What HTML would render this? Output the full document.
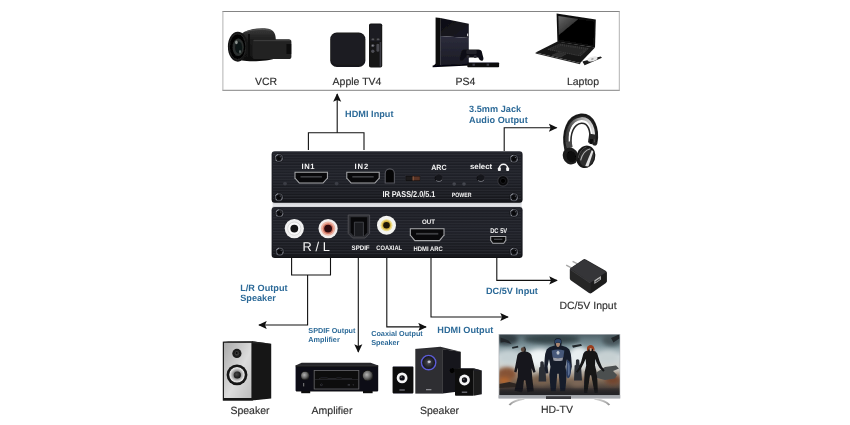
<!DOCTYPE html>
<html><head><meta charset="utf-8"><title>HDMI Audio Extractor Connection Diagram</title>
<style>
html,body{margin:0;padding:0;background:#fff;}
body{width:850px;height:425px;overflow:hidden;}
svg{display:block;}
text{text-rendering:geometricPrecision;}
text{font-family:"Liberation Sans",Arial,sans-serif;}
.lb{font-size:10.5px;fill:#303030;stroke:#303030;stroke-width:0.15px;}
.bl{font-size:9.15px;font-weight:bold;fill:#2c6a98;letter-spacing:0.03px;}
.bs{font-size:7.25px;font-weight:bold;fill:#2c6a98;}
.w{fill:#f4f4f4;font-weight:bold;}
.ln{fill:none;stroke:#111;stroke-width:1.1;}
</style></head><body>
<svg width="850" height="425" viewBox="0 0 850 425" style="opacity:0.999">
<defs>
<linearGradient id="gBody" x1="0" y1="0" x2="0" y2="1"><stop offset="0" stop-color="#2c2e36"/><stop offset="0.06" stop-color="#1c1d24"/><stop offset="0.5" stop-color="#1e2027"/><stop offset="0.9" stop-color="#17181d"/><stop offset="1" stop-color="#0e0f12"/></linearGradient>
<pattern id="pLines" width="4" height="2.75" patternUnits="userSpaceOnUse"><rect width="4" height="1.1" y="0" fill="#3a3c44"/></pattern>
<marker id="ah" viewBox="0 0 10 10" refX="9" refY="5" markerWidth="9" markerHeight="8.6" orient="auto-start-reverse" markerUnits="userSpaceOnUse"><path d="M0,0.3 L10,5 L0,9.7 L2,5 Z" fill="#111"/></marker>
</defs>
<rect width="850" height="425" fill="#fff"/>

<!-- top source box -->
<path d="M222.4,11.5 H619.8 M222.4,90.3 H619.8" stroke="#848484" stroke-width="1" fill="none"/>
<path d="M222.9,11.5 V90.3 M619.3,11.5 V90.3" stroke="#b2b2b2" stroke-width="1" fill="none"/>
<text class="lb" x="266" y="85" text-anchor="middle">VCR</text>
<text class="lb" x="357" y="85" text-anchor="middle">Apple TV4</text>
<text class="lb" x="465.5" y="85" text-anchor="middle">PS4</text>
<text class="lb" x="583" y="85" text-anchor="middle">Laptop</text>

<!-- connection lines -->
<g id="lines">
<path class="ln" d="M308.4,150 V132.7 H364 V150"/>
<path class="ln" d="M337.2,132.7 V94" marker-end="url(#ah)"/>
<path class="ln" d="M504.2,151 V127.7 H556.6" marker-end="url(#ah)"/>
<path class="ln" d="M496.8,258 V280.4 H557" marker-end="url(#ah)"/>
<path class="ln" d="M431,258 V317 H508" marker-end="url(#ah)"/>
<path class="ln" d="M291.6,258 V275 H330.5 V258"/>
<path class="ln" d="M307.6,275 V325 H259" marker-end="url(#ah)"/>
<path class="ln" d="M358.3,258 V352" marker-end="url(#ah)"/>
<path class="ln" d="M386.8,258 V326.9 H426" marker-end="url(#ah)"/>
</g>

<!-- blue labels -->
<text class="bl" x="345.1" y="117.2">HDMI Input</text>
<text class="bl" x="469.1" y="112">3.5mm Jack</text>
<text class="bl" x="469.1" y="122.9">Audio Output</text>
<text class="bl" x="485.9" y="294.1">DC/5V Input</text>
<text class="bl" x="437.3" y="333.2">HDMI Output</text>
<text class="bl" x="240.2" y="290.9">L/R Output</text>
<text class="bl" x="240.2" y="301">Speaker</text>
<text class="bs" x="308.3" y="333.3">SPDIF Output</text>
<text class="bs" x="308.3" y="341.9">Amplifier</text>
<text class="bs" x="371.2" y="336.2">Coaxial Output</text>
<text class="bs" x="371.2" y="344.5">Speaker</text>

<!-- grey labels -->
<text class="lb" x="588" y="308.8" text-anchor="middle">DC/5V Input</text>
<text class="lb" x="250" y="413.6" text-anchor="middle">Speaker</text>
<text class="lb" x="332" y="413.6" text-anchor="middle">Amplifier</text>
<text class="lb" x="439.5" y="413.6" text-anchor="middle">Speaker</text>
<text class="lb" x="557" y="413.4" text-anchor="middle">HD-TV</text>

<!-- DEVICE TOP -->
<defs><linearGradient id="gStrip" x1="0" y1="0" x2="0" y2="1"><stop offset="0" stop-color="#9c9da2"/><stop offset="0.3" stop-color="#d4d5d9"/><stop offset="0.65" stop-color="#e6e7ea"/><stop offset="1" stop-color="#a4a5aa"/></linearGradient></defs>
<rect x="272.6" y="201" width="249" height="7.5" fill="url(#gStrip)"/>
<g id="devTop">
<rect x="271.6" y="151.3" width="251" height="51.4" rx="3.2" fill="url(#gBody)"/>
<rect x="273" y="153.6" width="248" height="47.6" fill="url(#pLines)" opacity="0.5"/>
</g>
<!-- DEVICE BOTTOM -->
<g id="devBot">
<rect x="271.6" y="207.1" width="251" height="50.8" rx="3.2" fill="url(#gBody)"/>
<rect x="273" y="209.4" width="248" height="47" fill="url(#pLines)" opacity="0.5"/>
</g>

<!--PORTS-START-->
<!-- ===== top device details ===== -->
<defs>
<radialGradient id="gScrew"><stop offset="0" stop-color="#101013"/><stop offset="0.45" stop-color="#1c1d21"/><stop offset="0.7" stop-color="#4a4c54"/><stop offset="0.86" stop-color="#191a1e"/><stop offset="1" stop-color="#3c3e45"/></radialGradient>
<g id="screw"><circle r="4.700" fill="#15161a"/><circle r="3.500" fill="none" stroke="#4c4e56" stroke-width="1.100"/><circle r="1.900" fill="#0c0c0f"/><path d="M-2.400,-1.300L2.400,1.300M-1.300,2.400L1.300,-2.400" stroke="#08080a" stroke-width="1"/><path d="M-3.300,-1.400A3.600,3.600 0 0 1 -0.800,-3.500" fill="none" stroke="#9ea1aa" stroke-width="0.900"/><path d="M3.300,0.300A3.600,3.600 0 0 1 2,2.900" fill="none" stroke="#868992" stroke-width="0.800"/><circle cx="-2.600" cy="2.400" r="0.600" fill="#8d9099"/><circle cx="1.300" cy="-1.300" r="0.500" fill="#7d8089"/></g>
<g id="hdmi"><path d="M0,0 H33.4 V6.4 L28.8,11.6 H4.6 L0,6.4 Z" fill="#a9aaad"/><path d="M1,0.9 H32.4 V6.1 L28.3,10.6 H5.1 L1,6.1 Z" fill="#09090b"/><rect x="6" y="4.2" width="21.4" height="1.6" fill="#3e3f43"/></g>
</defs>
<use href="#screw" x="278.9" y="158"/><use href="#screw" x="278.9" y="197.2"/><use href="#screw" x="514" y="158.700"/><use href="#screw" x="514" y="197.200"/>
<text class="w" x="301.6" y="168.8" font-size="7.6" textLength="12.9" lengthAdjust="spacing">IN1</text>
<text class="w" x="354.6" y="168.8" font-size="7.6" textLength="13.6" lengthAdjust="spacing">IN2</text>
<use href="#hdmi" x="294.5" y="171.8"/>
<use href="#hdmi" x="346.3" y="171.8"/>
<circle cx="285" cy="183.6" r="1.9" fill="#3b3d45"/><circle cx="336.6" cy="183.6" r="1.9" fill="#3b3d45"/>
<!-- IR window -->
<path d="M385.2,183 V173.5 a4.6,4.6 0 0 1 9.2,0 V183 Z" fill="#050506" stroke="#56575e" stroke-width="1.1"/>
<!-- slide switch -->
<rect x="405.4" y="175.6" width="15" height="5.6" fill="#0b0b0d" stroke="#2c2d32" stroke-width="0.5"/><rect x="406.2" y="176.4" width="6.2" height="4" fill="#1d1b1c"/><rect x="412.6" y="176.4" width="7.2" height="4" fill="#5a3426"/><rect x="412.6" y="176.4" width="1.2" height="4" fill="#8a5a40"/>
<text class="w" x="382.4" y="196.8" font-size="8.5" textLength="53" lengthAdjust="spacingAndGlyphs">IR PASS/2.0/5.1</text>
<text class="w" x="431.2" y="169.5" font-size="7.6" textLength="15.4" lengthAdjust="spacingAndGlyphs">ARC</text>
<circle cx="438.9" cy="177.8" r="3.9" fill="#15161b" stroke="#2c2d33" stroke-width="0.700"/><path d="M435.400,176.400A3.900,3.900 0 0 0 436.200,180.600" fill="none" stroke="#08080a" stroke-width="0.900"/><path d="M436.1,180.4A3.9,3.9 0 0 0 442.1,179.8" fill="none" stroke="#8a8c94" stroke-width="0.7"/>
<circle cx="454.2" cy="184" r="1.8" fill="#44464e"/><circle cx="464" cy="184" r="1.8" fill="#44464e"/>
<text class="w" x="451.8" y="197.2" font-size="6.3" textLength="19.8" lengthAdjust="spacingAndGlyphs">POWER</text>
<text class="w" x="469.900" y="169" font-size="7.700" textLength="22.300" lengthAdjust="spacingAndGlyphs">select</text>
<circle cx="480.9" cy="177.8" r="3.9" fill="#15161b" stroke="#2c2d33" stroke-width="0.700"/><path d="M477.400,176.400A3.900,3.900 0 0 0 478.200,180.600" fill="none" stroke="#08080a" stroke-width="0.900"/><path d="M478.1,180.4A3.9,3.9 0 0 0 484.1,179.8" fill="none" stroke="#8a8c94" stroke-width="0.7"/>
<!-- headphone glyph -->
<path d="M499.400,169.400 V168.300 a4.100,4 0 0 1 8.200,0 V169.400" fill="none" stroke="#f4f4f4" stroke-width="1.600"/><rect x="497.9" y="167.5" width="2.9" height="3.5" rx="0.8" fill="#f4f4f4"/><rect x="506.2" y="167.5" width="2.9" height="3.5" rx="0.8" fill="#f4f4f4"/>
<circle cx="503" cy="180.900" r="5.200" fill="#08080a" stroke="#34353b" stroke-width="1.100"/><circle cx="503" cy="180.900" r="2.600" fill="#000" stroke="#222327" stroke-width="0.700"/>

<!-- ===== bottom device details ===== -->
<use href="#screw" x="279.500" y="213.200"/><use href="#screw" x="279.800" y="251.600"/><use href="#screw" x="514" y="213"/><use href="#screw" x="514" y="251.800"/>
<!-- RCA white -->
<circle cx="294.3" cy="228.6" r="9.6" fill="#f1f1f1"/><circle cx="294.3" cy="228.6" r="6.6" fill="#fafafa" stroke="#d2d2d2" stroke-width="0.8"/><circle cx="294.3" cy="228.6" r="3.9" fill="#151516"/>
<!-- RCA red -->
<circle cx="328.1" cy="228.6" r="9.6" fill="#f2efee"/><circle cx="328.1" cy="228.6" r="7.2" fill="#ecb4a4"/><circle cx="328.1" cy="228.6" r="5.400" fill="#cf7462"/><circle cx="328.1" cy="228.6" r="3.900" fill="#2e0a0e"/>
<text x="302.600" y="250.700" font-size="12.800" fill="#f4f4f4" textLength="27.200" lengthAdjust="spacing">R / L</text>
<!-- SPDIF optical -->
<path d="M348.2,215 H369.6 V233.5 L365.2,238 H352.6 L348.2,233.5 Z" fill="#2d2e33" stroke="#55565c" stroke-width="0.8"/>
<path d="M350.6,217.2 H367.2 V232.6 L364.2,235.8 H353.6 L350.6,232.6 Z" fill="#08080a"/>
<path d="M354.4,236 V222.2 H363.4 V236" fill="#1b1c20" stroke="#4a4b50" stroke-width="0.8"/>
<text class="w" x="351.6" y="249.7" font-size="6.6" textLength="18" lengthAdjust="spacingAndGlyphs">SPDIF</text>
<!-- Coaxial -->
<circle cx="386.5" cy="225.2" r="9.5" fill="#f4f4f1"/><circle cx="386.5" cy="225.2" r="6" fill="#ecdc8c"/><circle cx="386.5" cy="225.2" r="4.600" fill="#d2b040"/><circle cx="386.5" cy="225.2" r="3.300" fill="#1c1508"/>
<text class="w" x="376.3" y="249.7" font-size="6.6" textLength="25.8" lengthAdjust="spacingAndGlyphs">COAXIAL</text>
<!-- HDMI out -->
<text class="w" x="422" y="223.6" font-size="6.6" textLength="13" lengthAdjust="spacingAndGlyphs">OUT</text>
<g transform="translate(409.8,228.2) scale(1.04,1.12)"><use href="#hdmi"/></g>
<text class="w" x="413.5" y="250.6" font-size="6.6" textLength="29.2" lengthAdjust="spacingAndGlyphs">HDMI ARC</text>
<!-- DC -->
<text class="w" x="490.2" y="232.6" font-size="6.9" textLength="17" lengthAdjust="spacingAndGlyphs">DC 5V</text>
<path d="M490.2,236 H506.3 V240.4 L504,243.7 H492.5 L490.2,240.4 Z" fill="#a9aaad"/><path d="M491.2,237 H505.3 V240.1 L503.5,242.7 H493 L491.2,240.1 Z" fill="#0a0a0b"/><rect x="494" y="238.7" width="8.4" height="1.1" fill="#55565a"/>
<!--PORTS-END-->
<!--P1-START-->
<defs>
<filter id="b1" x="-10%" y="-10%" width="120%" height="120%"><feGaussianBlur stdDeviation="0.35"/></filter>
<filter id="b2" x="-20%" y="-20%" width="140%" height="140%"><feGaussianBlur stdDeviation="0.9"/></filter>
<filter id="b3" x="-30%" y="-30%" width="160%" height="160%"><feGaussianBlur stdDeviation="2"/></filter>
<linearGradient id="gCamBody" x1="0" y1="0" x2="0" y2="1"><stop offset="0" stop-color="#3a3a3a"/><stop offset="0.35" stop-color="#1d1d1d"/><stop offset="1" stop-color="#0e0e0e"/></linearGradient>
<radialGradient id="gLens" cx="0.5" cy="0.5" r="0.5"><stop offset="0" stop-color="#2d2f33"/><stop offset="0.45" stop-color="#0a0a0b"/><stop offset="0.7" stop-color="#222"/><stop offset="1" stop-color="#0c0c0c"/></radialGradient>
<linearGradient id="gPsTop" x1="0" y1="0" x2="1" y2="1"><stop offset="0" stop-color="#0d0d12"/><stop offset="1" stop-color="#1b1b26"/></linearGradient>
<linearGradient id="gPsLow" x1="0" y1="0" x2="0" y2="1"><stop offset="0" stop-color="#2c2d3c"/><stop offset="1" stop-color="#1a1a24"/></linearGradient>
<linearGradient id="gScr" x1="0" y1="0" x2="1" y2="1"><stop offset="0" stop-color="#6a6a6a"/><stop offset="0.32" stop-color="#3a3a3a"/><stop offset="0.34" stop-color="#050505"/><stop offset="1" stop-color="#000"/></linearGradient>
</defs>
<!-- ===== Camcorder ===== -->
<g id="cam" filter="url(#b1)">
<path d="M241,34 C246,30 254,28.400 262,28.300 C268,28.200 272.600,29.600 274.400,33 C275.600,35.400 275.800,38 275.800,40 L275.800,58 C270,61.400 250,62 242,60.600 Z" fill="url(#gCamBody)"/>
<path d="M246,31.600 C254,29.200 264,28.800 271.600,30.400" stroke="#5a5a5a" stroke-width="0.800" fill="none"/>
<path d="M249,34 L249,59" stroke="#060606" stroke-width="1.400"/>
<rect x="252.500" y="39.300" width="38.900" height="19.800" rx="2.600" fill="#232323"/>
<rect x="253.300" y="40" width="37.300" height="1.200" rx="0.600" fill="#3a3a3a"/>
<path d="M286.600,44 H291.200 V54 H286.600 Z" fill="#070707"/>
<ellipse cx="237.800" cy="46.700" rx="9.900" ry="15" fill="#131313"/>
<ellipse cx="237.600" cy="46.700" rx="8.300" ry="13" fill="#050505" stroke="#303030" stroke-width="0.700"/>
<ellipse cx="238.200" cy="47.200" rx="5.600" ry="8.800" fill="#2a2f2d"/>
<ellipse cx="238.600" cy="47.600" rx="3.600" ry="6" fill="#111416"/>
<ellipse cx="236.400" cy="42.400" rx="1.300" ry="1.800" fill="#8d9490"/>
<ellipse cx="240" cy="51.600" rx="1" ry="1.600" fill="#596460"/>
</g>
<!-- ===== Apple TV + remote ===== -->
<g id="atv" filter="url(#b1)">
<rect x="330.2" y="32.6" width="35.2" height="34.4" rx="6.6" fill="#19191b"/>
<rect x="331.2" y="33.4" width="33.2" height="31" rx="6" fill="#1f1f22"/>
<rect x="369" y="23.5" width="13.2" height="44" rx="1.8" fill="#121214"/>
<rect x="370" y="24.4" width="11.2" height="17" rx="1.2" fill="#1f1f22"/>
<rect x="379.600" y="42" width="1.600" height="24.600" fill="#4a4a50" opacity="0.800"/>
<rect x="371.600" y="38.600" width="2.600" height="1.600" rx="0.500" fill="#56565c"/><rect x="376.800" y="38.600" width="2.600" height="1.600" rx="0.500" fill="#56565c"/>
<circle cx="372.800" cy="45.600" r="1.700" fill="#4e4e54"/><rect x="376.400" y="43.800" width="2.800" height="8" rx="1.300" fill="#4a4a50"/><circle cx="372.800" cy="51.200" r="1.700" fill="#4e4e54"/><circle cx="372.800" cy="45.600" r="0.700" fill="#a0a0a6"/>
</g>
<!-- ===== PS4 ===== -->
<g id="ps4" filter="url(#b1)">
<path d="M435.6,17.6 L440.6,18 L440.6,66 L433.2,66.2 L435.6,63.5 Z" fill="#0a0a0e"/>
<path d="M440.4,18 L468.8,23.8 L468.8,38 L440.4,36 Z" fill="url(#gPsTop)"/>
<path d="M440.4,36 L468.8,38 L468.8,64.4 L440.4,65.6 Z" fill="url(#gPsLow)"/>
<path d="M432.6,65.4 L469.6,63.8 L469.6,65.6 L432.6,67.2 Z" fill="#060608"/>
<rect x="467" y="33.6" width="1.2" height="2.6" fill="#ccc"/>
<!-- controller -->
<path d="M461.6,51 Q462.4,49.2 465,49.4 L478,49.4 Q480.8,49.2 481.6,51 L483.4,58 Q483.6,61 481.4,60.8 Q479.6,60.6 478.2,57.4 L465,57.4 Q463.6,60.6 461.8,60.8 Q459.4,61 459.8,58 Z" fill="#111115"/>
<rect x="466.4" y="50" width="10.2" height="4" rx="0.8" fill="#24242c"/>
<circle cx="468" cy="56.4" r="1.5" fill="#2c2c34"/><circle cx="475.2" cy="56.4" r="1.5" fill="#2c2c34"/>
<!-- camera bar -->
<rect x="467.3" y="62.4" width="31.8" height="4.8" rx="0.8" fill="#0c0c10"/>
<rect x="472.5" y="63.6" width="2.4" height="2.2" fill="#3a3a44"/><rect x="486.6" y="63.6" width="2.4" height="2.2" fill="#3a3a44"/>
</g>
<!-- ===== Laptop ===== -->
<g id="lap" filter="url(#b1)">
<path d="M535.6,52.4 L557.4,41.6 L595,47.4 L580.2,63 Z" fill="#141414"/>
<path d="M535.6,53 L580.2,63.600" stroke="#2c2c2c" stroke-width="1.200" fill="none"/>
<path d="M546.5,49.4 L559.6,43.6 L589.6,48.2 L580.6,56.6 Z" fill="#262626"/>
<path d="M548,49.4 L559.8,44.2 L588,48.4 L580.2,55.8 Z" fill="none" stroke="#4d4d4d" stroke-width="0.6" stroke-dasharray="1 0.9"/>
<path d="M550,50.4 L561,45.4 L586,49.2 L578.6,54.6" fill="none" stroke="#454545" stroke-width="0.6" stroke-dasharray="1 0.9"/>
<path d="M552,55.2 L558.4,52.4 L566,54 L560.4,57.2 Z" fill="#2e2e2e" stroke="#484848" stroke-width="0.4"/>
<path d="M556.6,13.4 L595.8,19.6 L595,47.6 L557.4,41.8 Z" fill="#101010"/>
<path d="M558.4,16 L594.2,21.6 L593.4,45.4 L559,40 Z" fill="url(#gScr)"/>
<!-- dvd tray -->
<path d="M582.4,61.6 L600.6,56.6 L602,57.8 L584.6,65.2 Z" fill="#1a1a1a"/>
<ellipse cx="592.4" cy="59" rx="5.2" ry="2.3" fill="#e8e8e8" transform="rotate(-14 592.4 59)"/>
<ellipse cx="592.4" cy="59" rx="1.4" ry="0.7" fill="#999" transform="rotate(-14 592.4 59)"/>
</g>
<!--P1-END-->
<!--P2-START-->
<defs>
<linearGradient id="gSilver" x1="0" y1="0" x2="1" y2="1"><stop offset="0" stop-color="#a8a8a8"/><stop offset="0.55" stop-color="#dcdcdc"/><stop offset="1" stop-color="#bcbcbc"/></linearGradient>
<radialGradient id="gCone" cx="0.45" cy="0.45" r="0.55"><stop offset="0" stop-color="#222"/><stop offset="0.3" stop-color="#2a2a2a"/><stop offset="0.38" stop-color="#9c9c9c"/><stop offset="0.7" stop-color="#dadada"/><stop offset="0.74" stop-color="#222"/><stop offset="1" stop-color="#0c0c0c"/></radialGradient>
<radialGradient id="gCone2" cx="0.5" cy="0.5" r="0.5"><stop offset="0" stop-color="#555"/><stop offset="0.45" stop-color="#8a8a8a"/><stop offset="0.8" stop-color="#d4d4d4"/><stop offset="0.92" stop-color="#e8e8e8"/><stop offset="1" stop-color="#8a8a8a"/></radialGradient>
<radialGradient id="gDome" cx="0.4" cy="0.4" r="0.6"><stop offset="0" stop-color="#4a4a4a"/><stop offset="1" stop-color="#141414"/></radialGradient>
<radialGradient id="gKnob" cx="0.4" cy="0.4" r="0.6"><stop offset="0" stop-color="#b4b4b4"/><stop offset="0.6" stop-color="#6a6a6a"/><stop offset="1" stop-color="#2a2a2a"/></radialGradient>
<radialGradient id="gSub" cx="0.5" cy="0.5" r="0.5"><stop offset="0" stop-color="#70707a"/><stop offset="0.3" stop-color="#3a3a42"/><stop offset="0.8" stop-color="#1c1c20"/><stop offset="1" stop-color="#141418"/></radialGradient>
<linearGradient id="gHpBand" x1="0" y1="0" x2="1" y2="0"><stop offset="0" stop-color="#3c3c3c"/><stop offset="0.45" stop-color="#9a9a9a"/><stop offset="1" stop-color="#dedede"/></linearGradient>
</defs>
<!-- ===== Headphones ===== -->
<g id="hp" filter="url(#b1)">
<path d="M566.800,149 C563.200,132 569,117.400 581,116.200 C592,115.400 597.600,128.600 594.800,143" fill="none" stroke="#242424" stroke-width="5.200" stroke-linecap="round"/>
<path d="M567.400,146 C565.200,131.600 570.600,119.600 581.200,118.600 C590.600,118 595.200,129.600 593,142" fill="none" stroke="url(#gHpBand)" stroke-width="2.900"/>
<path d="M565,146 C562.400,130 568.600,116 581,114.800 C593,114 599,128 596.400,142" fill="none" stroke="#111" stroke-width="1"/>
<path d="M571.200,146 C569.800,133.600 573.800,124 581.400,123.200 C588,122.800 591,131 589.600,140" fill="none" stroke="#262626" stroke-width="1.600"/>
<rect x="588.600" y="134" width="6.400" height="9" rx="1" fill="#262626" transform="rotate(8 591 138)"/>
<rect x="590.200" y="139" width="3" height="5" fill="#0c0c0c" transform="rotate(8 591 138)"/>
<rect x="566.200" y="141.600" width="6" height="6.400" rx="1" fill="#4a4a4a" transform="rotate(-12 569 145)"/>
<ellipse cx="585.800" cy="156.800" rx="9.400" ry="11.400" fill="#171717" transform="rotate(18 585.800 156.800)"/>
<ellipse cx="586.800" cy="157.400" rx="7.200" ry="9.200" fill="#2e2e2e" transform="rotate(18 586.800 157.400)"/>
<path d="M585.200,166 L591.800,150 L593.400,151.400 L588.400,166.400 Z" fill="#e2e2e2"/>
<path d="M580.600,160.400 C582.200,154 586.200,149.800 590.400,148.800" stroke="#b0b0b0" stroke-width="1.100" fill="none"/>
<path d="M578.200,158 C579.400,152 582.800,148.200 586.400,147" stroke="#5a5a5a" stroke-width="0.800" fill="none"/>
<ellipse cx="570.400" cy="156" rx="7.600" ry="8.600" fill="#1e1e1e" transform="rotate(-20 570.400 156)"/>
<ellipse cx="571.400" cy="156.600" rx="4.600" ry="5.800" fill="#070707" transform="rotate(-20 571.400 156.600)"/>
</g>
<!-- ===== Charger ===== -->
<g id="chg" filter="url(#b1)">
<path d="M566.200,265.200 L571.400,267.900" stroke="#a8a8a8" stroke-width="1.500"/><path d="M572.600,261.400 L577.400,263.800" stroke="#a8a8a8" stroke-width="1.500"/>
<path d="M569.800,269.600 Q569.800,268.400 571,267.800 L583.200,259.400 Q584.400,258.600 585.800,259.400 L605.600,270.800 Q606.800,271.600 606.800,272.800 L606.800,281 Q606.800,282.400 605.600,283.200 L591.600,293 Q590.300,293.800 589,293 L571,280.600 Q569.800,279.800 569.800,278.600 Z" fill="#262628"/>
<path d="M570.400,268.600 L584.400,259.400 L606.400,271.900 L590.300,282.800 Z" fill="#353537"/>
<path d="M590.500,283 L606.600,272.200 L606.600,281.800 L590.500,293.200 Z" fill="#1b1b1d"/>
<path d="M570.200,269.400 L590.200,283 " stroke="#4a4a4c" stroke-width="0.600" fill="none"/>
<path d="M594.400,280.200 L600.900,275.900 L600.900,279.600 L594.400,284 Z" fill="#b8b8b8"/><path d="M595.400,281.200 L599.900,278.200 L599.900,279.600 L595.400,282.600 Z" fill="#3a3a3a"/>
</g>
<!-- ===== Left speaker ===== -->
<g id="spk" filter="url(#b1)">
<path d="M252,341.2 L271.2,343.8 L271.2,398.4 L252,400.4 Z" fill="#141414"/>
<path d="M223,341.6 L252,341.2 L271.2,343.8 L245,343.4 Z" fill="#262626"/>
<rect x="223.400" y="342.200" width="28.600" height="57.800" fill="url(#gSilver)" stroke="#1a1a1a" stroke-width="1.200"/><rect x="223" y="398" width="29.400" height="2.300" fill="#151515"/>
<circle cx="236.9" cy="353.4" r="4.6" fill="#1a1a1a"/><circle cx="236.9" cy="353.4" r="2.3" fill="#3a3a3a"/><circle cx="236.6" cy="353.1" r="1" fill="#0c0c0c"/>
<circle cx="237" cy="374.800" r="10.400" fill="#141414"/><circle cx="237" cy="374.800" r="7.900" fill="url(#gCone2)"/><circle cx="237.300" cy="375" r="3.600" fill="url(#gDome)"/>
</g>
<!-- ===== Amplifier ===== -->
<g id="amp" filter="url(#b1)">
<path d="M301.6,362.8 L370.6,362.8 L378.2,365.6 L295.6,365.6 Z" fill="#26262a"/>
<rect x="295.6" y="365.2" width="82.6" height="26.2" rx="0.8" fill="#111113"/>
<rect x="295.6" y="365.2" width="82.6" height="1.2" fill="#2c2c30"/>
<rect x="301.2" y="391" width="9" height="2.2" fill="#0a0a0a"/><rect x="363" y="391" width="9.6" height="2.2" fill="#0a0a0a"/>
<rect x="314.2" y="370.400" width="44.6" height="18.600" fill="#070708" stroke="#6a6a6e" stroke-width="0.8"/>
<path d="M315,379.400 H358" stroke="#2e2e32" stroke-width="0.8"/>
<path d="M319,378.800 l2,-1 h6 l1,0.6 h8 l1,-0.6 h4 l1,0.6 h10" stroke="#4a4a50" stroke-width="0.5" fill="none"/>
<circle cx="321.4" cy="384.8" r="1" fill="none" stroke="#55555a" stroke-width="0.5"/>
<rect x="347.6" y="384.2" width="2.6" height="1.4" fill="#3e3e42"/><rect x="352.6" y="384.4" width="1.6" height="1" fill="#3e3e42"/>
<circle cx="305.1" cy="375.7" r="4" fill="url(#gKnob)"/>
<circle cx="367.8" cy="375.7" r="5" fill="url(#gKnob)"/>
<rect x="303" y="383" width="1.2" height="3.4" fill="#6a6a6e"/>
</g>
<!-- ===== Speaker set ===== -->
<g id="set" filter="url(#b1)">
<path d="M415.3,348.9 L440.4,346.8 L460.8,351.8 L442.8,349.4 Z" fill="#2a2a2e"/>
<path d="M442.8,349.2 L460.8,351.8 L460.8,391.2 L442.8,393.6 Z" fill="#19191c"/>
<rect x="415.3" y="348.9" width="27.6" height="44.7" fill="#2d2d30"/>
<circle cx="428.6" cy="362.6" r="7.2" fill="url(#gSub)" stroke="#5c5cd6" stroke-width="1.400"/><ellipse cx="429.200" cy="361.800" rx="1.600" ry="1.300" fill="#c8c8d4"/>
<circle cx="452.2" cy="370.6" r="2.6" fill="#050506"/>
<rect x="426" y="389" width="5.4" height="1.3" fill="#8a8a90"/>
<!-- left sat -->
<rect x="392.6" y="366.6" width="20.8" height="26.8" rx="0.8" fill="#0d0d0f"/>
<circle cx="402.1" cy="377.9" r="5.400" fill="#f4f4f4"/><circle cx="402.1" cy="377.9" r="2.700" fill="#101012"/><circle cx="401.4" cy="377.2" r="0.9" fill="#55555c"/>
<rect x="399.4" y="389.4" width="5.4" height="1.2" fill="#7a7a80"/>
<!-- right sat -->
<path d="M473.6,368.4 L481.8,370.6 L481.8,394.2 L473.6,395.8 Z" fill="#1c1c1f"/>
<path d="M455,368.3 L473.6,368.3 L481.8,370.6 L463,370.2 Z" fill="#222226"/>
<rect x="455" y="368.8" width="18.7" height="27" rx="0.8" fill="#0d0d0f"/>
<circle cx="464.5" cy="380" r="5.400" fill="#f4f4f4"/><circle cx="464.5" cy="380" r="2.700" fill="#101012"/><circle cx="463.8" cy="379.3" r="0.9" fill="#55555c"/>
<rect x="461.8" y="391.6" width="5.4" height="1.2" fill="#7a7a80"/>
</g>
<!--P2-END-->
<!--P3-START-->
<defs>
<linearGradient id="gSky" x1="0" y1="0" x2="0" y2="1"><stop offset="0" stop-color="#50636a"/><stop offset="0.18" stop-color="#7f959c"/><stop offset="0.36" stop-color="#cdd7da"/><stop offset="0.55" stop-color="#d0d2ce"/><stop offset="0.74" stop-color="#86705c"/><stop offset="0.9" stop-color="#423a36"/><stop offset="1" stop-color="#2a2a2b"/></linearGradient>
<clipPath id="cTv"><rect x="499.4" y="334.8" width="120.2" height="60.4"/></clipPath>
<linearGradient id="gLeg" x1="0" y1="0" x2="0" y2="1"><stop offset="0" stop-color="#d8d8d8"/><stop offset="1" stop-color="#8e8e8e"/></linearGradient>
<filter id="b4" x="-20%" y="-20%" width="140%" height="140%"><feGaussianBlur stdDeviation="0.5"/></filter>
</defs>
<g id="tv">
<rect x="498.6" y="334" width="121.6" height="64.4" fill="#aeb1b6"/>
<rect x="499.4" y="334.8" width="120.2" height="60.4" fill="url(#gSky)"/>
<g clip-path="url(#cTv)">
  <g filter="url(#b3)">
    <ellipse cx="552" cy="339" rx="28" ry="5" fill="#36444a"/>
    <ellipse cx="506" cy="339" rx="12" ry="6" fill="#303c42"/>
    <ellipse cx="612" cy="340" rx="10" ry="6" fill="#46545a"/>
    <ellipse cx="540" cy="358" rx="14" ry="9" fill="#eef3f4"/>
    <ellipse cx="579" cy="357" rx="10" ry="10" fill="#e8eef0"/>
    <ellipse cx="509" cy="357" rx="10" ry="6" fill="#c4d0d3"/>
    <ellipse cx="608" cy="357" rx="10" ry="6" fill="#c6d0d2"/>
    <ellipse cx="507" cy="374" rx="10" ry="7" fill="#865334"/>
    <ellipse cx="504" cy="381" rx="6" ry="3.600" fill="#b4662e"/>
    <ellipse cx="541" cy="380" rx="9" ry="5" fill="#77604e"/>
    <ellipse cx="613" cy="380" rx="8" ry="5" fill="#73452e"/>
    <ellipse cx="578" cy="383" rx="8" ry="4" fill="#7b6656"/>
  </g>
  <g filter="url(#b4)">
    <!-- jets / debris -->
    <path d="M500.600,337.600 l8,3 l3,3.400 l-7,-2 l-4,0.600z M572,345.600 l9,-1.600 l1,1.800 l-9,2z M611,338 l8,-3.400 l0.400,4 l-6,4z M512,347 l6,-1.200 l0.400,1.800 l-6,1.200z" fill="#20282c"/>
    <path d="M597,372 l8,-5 l11,-1.400 l3,3 l-6,2.400 l4,4 l-2,3.400 l-10,1.600 l-8,-2z" fill="#4c4f50"/>
    <path d="M499.400,384 l10,-2 l8,2 l4,-1 l0,4 l-22,1z" fill="#2e2622"/>
    <!-- small soldiers -->
    <path d="M540.400,362 q1.600,-1.600 3.200,0 l0.600,5 l1.200,0.400 l0.800,14 l-7.600,0 l0.600,-14 l1,-0.400z M576,360 q1.600,-1.600 3.200,0 l0.400,5 l1.400,0.400 l1,15 l-8,0 l0.600,-15 l1.200,-0.400z" fill="#2a2f36"/>
    <!-- left man in long coat -->
    <path d="M522.800,346.400 q3,0 3.200,3.400 l-0.400,1.600 q4.400,0.600 5.800,3.600 l2.400,9.600 l1.800,7.400 l-2.200,0.800 l-1.800,-4.600 l0.600,9 l1.600,14 l-6.400,1 l-2,-12 l-1.400,0 l-1.400,11 l-1.200,1.200 l-7,-1.600 l3.400,-14 l0.200,-9 l-1.600,4.600 l-2.200,-0.600 l1.800,-9.200 l1.400,-7.600 q1.200,-3 5.600,-3.600 l-0.400,-1.600 q0.200,-3.400 3.200,-3.400z" fill="#18171a"/>
    <ellipse cx="522.800" cy="349.600" rx="1.900" ry="2.300" fill="#5a463c"/>
    <g transform="translate(558 0) scale(0.9 1) translate(-558 0)">
<!-- captain -->
    <path d="M558,338 q4,0 4.200,4.400 l-0.600,3 q6.400,1 9,4.200 q2,4 2.200,9 l0.600,8 l-1.600,7 l-3,-0.400 l0.800,-7 l-1.600,-7 l-1.600,7.600 l1.200,8 l-0.800,9 l-0.800,7.400 l-5.400,0 l-1,-9 l-0.800,-8.400 l-1.600,0 l-0.800,8.400 l-1,9 l-5.400,0 l-0.800,-7.400 l-0.800,-9 l1.200,-8 l-1.600,-7.600 l-1.600,7 l0.800,7 l-3,0.400 l-1.600,-7 l0.600,-8 q0.200,-5 2.200,-9 q2.600,-3.200 9,-4.200 l-0.600,-3 q0.200,-4.400 4.200,-4.400z" fill="#161d2b"/>
    <path d="M554.600,340.400 q3.400,-2.600 6.800,0 l0.200,3 q-3.600,-1.600 -7.200,0z" fill="#2f4468"/>
    <path d="M555.600,343.200 q2.400,-1 4.800,0 q-0.200,3.600 -2.400,3.800 q-2.200,-0.200 -2.400,-3.800z" fill="#a98670"/>
    <path d="M551,350.600 q7,-2 14,0 l-1,7 q-6,1.400 -12,0z" fill="#46587a"/>
    <path d="M556.200,352.200 l1.800,-1.800 l1.800,1.800 l-0.600,2.400 l-2.400,0z" fill="#c2c8d2"/>
    <path d="M552.400,357.600 q5.600,1.400 11.200,0 l-0.600,3 q-5,1 -10,0z" fill="#9c9ea8"/>
    <path d="M567.800,360 q3.600,0.600 4.200,5 l0,9 q-0.800,4 -3.200,4.600 q-1.800,-1.600 -1.800,-6z" fill="#2a3d62"/>
    <path d="M568.600,362 q2.200,0.800 2.400,4 l0,7 q-0.400,2.600 -1.800,3z" fill="#5c6f94"/>
    </g>
<!-- widow -->
    <path d="M590.400,345.800 q2.600,0 2.800,3 l-0.200,1.800 q3.200,0.600 4.200,3 l2.400,7.600 l2.200,5.400 l2.800,4 l-1.400,1.200 l-3.800,-4 l-2.800,-5.400 l-1.400,-3.600 l-0.200,6.800 l1.600,6.600 l0.800,8.600 l0.400,12 l-3.200,0.200 l-1.800,-10 l-1.600,-7.800 l-1.200,0 l-1.200,7.800 l-1.600,10 l-3.200,-0.200 l0.200,-12 l0.400,-8.600 l1.600,-6.600 l-0.600,-6.800 l-1.600,4 l-3,5.600 l-3.600,4.400 l-1.400,-1 l3,-4.600 l2.200,-5.600 l2.200,-8 q1,-2.400 4.200,-3 l-0.200,-1.800 q0.200,-3 2.600,-3z" fill="#131417"/>
    <path d="M587.400,346.600 q3,-3.200 6.200,-0.200 q1.600,2.200 0.600,5.600 l-1.400,-3 l-3.600,-0.600 l-1.600,3.200 q-1.200,-2.800 -0.200,-5z" fill="#9a3c1c"/>
    <path d="M589.400,348.400 q1.200,-0.600 2.400,0 q0,2.600 -1.200,2.800 q-1.200,-0.200 -1.200,-2.800z" fill="#c9a48e"/>
  </g>
  <rect x="499.400" y="389.600" width="120.200" height="6" fill="#1e1e20" opacity="0.550" filter="url(#b2)"/>
</g>
<rect x="498.600" y="395.200" width="121.600" height="3.200" fill="#a6a9ae"/>
<rect x="546" y="396.200" width="25" height="2.800" fill="#3a3a3e"/>
<path d="M522,398.200 Q513,399.800 508.600,404.400 L510.200,405.400 Q515,401.200 525,399.600 Z" fill="url(#gLeg)"/>
<path d="M596.800,398.200 Q605.800,399.800 610.200,404.400 L608.600,405.400 Q603.800,401.200 593.800,399.600 Z" fill="url(#gLeg)"/>
</g>
<!--P3-END-->
</svg>
</body></html>
